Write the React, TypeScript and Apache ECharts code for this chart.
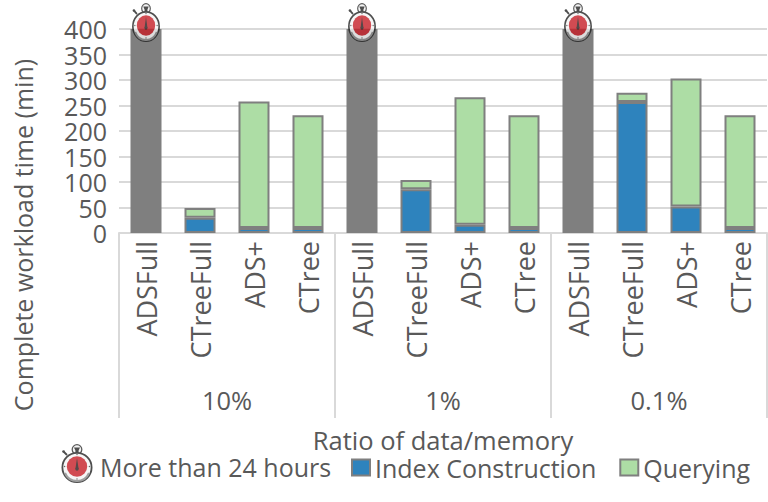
import React, { useEffect, useRef } from "react";
import * as echarts from "echarts";

const methods = ["ADSFull", "CTreeFull", "ADS+", "CTree", "ADSFull", "CTreeFull", "ADS+", "CTree", "ADSFull", "CTreeFull", "ADS+", "CTree"];
const ratios = ["10%", "1%", "0.1%"];
const timedOut = [400, null, null, null, 400, null, null, null, 400, null, null, null];
const indexConstruction = [null, 30, 10, 10, null, 86, 16, 10, null, 257, 52, 10];
const querying = [null, 19, 248, 221, null, 18, 250, 221, null, 18, 251, 221];
const yTicksMax = 400;
const yTickStep = 50;

const FONT = "'Open Sans', 'Noto Sans', sans-serif";
const TEXT = "#595959";
const GRID = "#D9D9D9";
const BORDER = "#7F7F7F";

const watchSvg = (h: number) => `<svg xmlns="http://www.w3.org/2000/svg" width="${36 * 4}" height="${h * 4}" viewBox="0 0 36 ${h}">
<circle cx="18" cy="6.5" r="4.8" fill="#f2f2f2" stroke="#333" stroke-width="1.3"/>
<path d="M15 4.5h6l-1.4 3v3h-3.2v-3z" fill="#222"/>
<path d="M5 9l3 3" stroke="#222" stroke-width="1.8"/><circle cx="4.6" cy="8.6" r="1.4" fill="#222"/>
<circle cx="18" cy="24.5" r="14.6" fill="#f4f4f4" stroke="#222" stroke-width="1.8"/>
<path d="M6 30a13 13 0 0 0 24 0" fill="none" stroke="#888" stroke-width="2"/>
<circle cx="18" cy="23.5" r="10.2" fill="#C61F28"/>
<path d="M18 15l1.6 11h-3.2z" fill="#2c1c1c"/><circle cx="18" cy="26" r="1.7" fill="#2c1c1c"/>
<g fill="#444"><circle cx="18" cy="11.5" r=".7"/><circle cx="5.6" cy="23.5" r=".7"/><circle cx="30.4" cy="23.5" r=".7"/><circle cx="18" cy="36" r=".7"/></g>
</svg>`;
const iconUri = (h: number) => "image://data:image/svg+xml;charset=utf-8," + encodeURIComponent(watchSvg(h));

export default function App() {
  const ref = useRef<HTMLDivElement>(null);
  useEffect(() => {
    const chart = echarts.init(ref.current!, null, { renderer: "svg" });
    chart.setOption({
      animation: false,
      textStyle: { fontFamily: FONT, color: TEXT },
      grid: { left: 119, top: 29, width: 648, height: 204, containLabel: false },
      legend: [
        {
          data: [{ name: "More than 24 hours", icon: iconUri(48) }], left: 59, top: 443, padding: 0,
          itemWidth: 36, itemHeight: 48,
          textStyle: { fontFamily: FONT, fontSize: 25, color: TEXT },
        },
        {
          data: ["Index Construction", "Querying"], left: 351, top: 455, padding: 0, icon: "rect",
          itemWidth: 18, itemHeight: 16, itemGap: 23,
          textStyle: { fontFamily: FONT, fontSize: 25, color: TEXT },
        },
      ],
      xAxis: [
        {
          type: "category", data: methods, position: "bottom",
          axisLine: { lineStyle: { color: GRID, width: 2 } },
          axisTick: { show: false },
          axisLabel: { rotate: 90, interval: 0, fontSize: 27, color: TEXT, fontFamily: FONT, margin: 8 },
        },
        {
          type: "category", data: ratios, position: "bottom",
          name: "Ratio of data/memory", nameLocation: "middle", nameGap: 194,
          nameTextStyle: { fontSize: 25.5, color: TEXT, fontFamily: FONT },
          axisLine: { show: false },
          axisTick: { show: true, length: 185, lineStyle: { color: GRID, width: 2 } },
          axisLabel: { interval: 0, fontSize: 25.5, color: TEXT, fontFamily: FONT, margin: 154 },
        },
      ],
      yAxis: {
        type: "value", min: 0, max: yTicksMax, interval: yTickStep,
        axisLine: { show: false }, axisTick: { show: false },
        splitLine: { lineStyle: { color: GRID, width: 2 } },
        axisLabel: { fontSize: 25, color: TEXT, fontFamily: FONT, margin: 12 },
      },
      graphic: [
        {
          type: "text", x: 23, y: 235, rotation: Math.PI / 2, originX: 0, originY: 0,
          style: {
            text: "Complete workload time (min)", fontSize: 25, fontFamily: FONT, fill: TEXT,
            align: "center", verticalAlign: "middle",
          },
        },
      ],
      series: [
        {
          name: "Over limit", type: "bar", stack: "t", barWidth: 31, data: timedOut,
          itemStyle: { color: BORDER },
        },
        {
          name: "Index Construction", type: "bar", stack: "t", barWidth: 31, data: indexConstruction,
          itemStyle: { color: "#2E83BD", borderColor: BORDER, borderWidth: 2 },
        },
        {
          name: "Querying", type: "bar", stack: "t", barWidth: 31, data: querying,
          itemStyle: { color: "#ADDDA5", borderColor: BORDER, borderWidth: 2 },
        },
        {
          name: "More than 24 hours", type: "scatter", data: timedOut, z: 5,
          symbol: iconUri(40), symbolSize: [36, 40], symbolOffset: [0, -7],
          silent: true,
        },
      ],
    });
    return () => chart.dispose();
  }, []);
  return <div ref={ref} style={{ position: "absolute", left: 0, top: 0, width: 768, height: 502 }} />;
}
